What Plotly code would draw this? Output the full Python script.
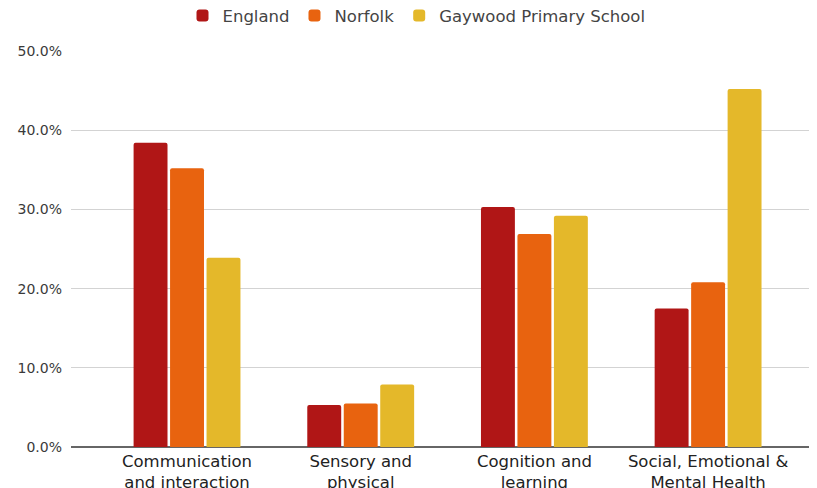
import plotly.graph_objects as go

categories = ["Communication<br>and interaction", "Sensory and<br>physical",
              "Cognition and<br>learning", "Social, Emotional &<br>Mental Health"]
series_names = ["England", "Norfolk", "Gaywood Primary School"]
england = [0.384, 0.053, 0.303, 0.175]
norfolk = [0.352, 0.055, 0.269, 0.208]
gaywood = [0.239, 0.079, 0.292, 0.452]
colors = ["#b01616", "#e8630f", "#e4b82a"]
y_ticks = [0, 0.1, 0.2, 0.3, 0.4, 0.5]

fig = go.Figure()
for name, vals, col in zip(series_names, [england, norfolk, gaywood], colors):
    fig.add_trace(go.Bar(x=categories, y=vals, name=name, marker=dict(color=col, line=dict(width=0))))

font_family = "'DejaVu Sans', sans-serif"
fig.update_layout(
    width=817, height=488,
    margin=dict(l=63, r=8, t=43, b=49, autoexpand=False),
    paper_bgcolor="white", plot_bgcolor="white",
    barmode="group", bargap=0.37, bargroupgap=0.07,
    barcornerradius=2,
    font=dict(family=font_family, size=16, color="#333333"),
    legend=dict(orientation="h", x=0.5, xanchor="center", xref="container",
                y=0.984, yanchor="middle", yref="container",
                font=dict(size=16.5, color="#444444"), itemwidth=30, traceorder="normal"),
    showlegend=True,
)
fig.update_xaxes(type="category", range=[-0.668, 3.627], showgrid=False, showline=False,
                 ticks="", tickfont=dict(size=16.5, color="#222222"), ticklabelstandoff=2,
                 automargin=False)
fig.update_yaxes(range=[0, 0.5], tickvals=y_ticks, tickformat=".1%", showgrid=True,
                 gridcolor="#d3d3d3", gridwidth=1, zeroline=True, zerolinecolor="#666666",
                 zerolinewidth=2, showline=False, ticks="", tickfont=dict(size=14, color="#3a3a3a"),
                 ticklabelstandoff=8, automargin=False)

fig.write_html("out.html")
